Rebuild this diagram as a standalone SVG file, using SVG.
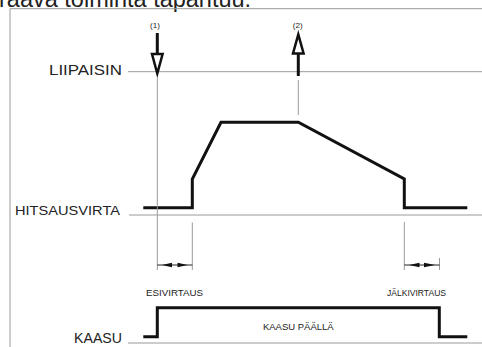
<svg xmlns="http://www.w3.org/2000/svg" width="482" height="347" viewBox="0 0 482 347">
<style>
.thin{stroke:#9a9a9a;stroke-width:1;fill:none}
.wave{stroke:#111;stroke-width:3;fill:none;stroke-linejoin:miter}
.lbl{font-family:"Liberation Sans",Arial,sans-serif;fill:#222}
.big{font-size:15px}
.sm{font-size:9px}
.tiny{font-size:8px}
.dim{stroke:#222;stroke-width:1}
.head{fill:#111}
</style>
<rect width="482" height="347" fill="#fff"/>
<text class="lbl" x="-1" y="7" font-size="23.5">raava toiminta tapahtuu.</text>
<g id="frame">
<path class="thin" d="M10,347 V8.7 H482"/>
</g>
<g id="liipaisin">
<text class="lbl big" x="49" y="75" textLength="73" lengthAdjust="spacingAndGlyphs">LIIPAISIN</text>
<line class="thin" x1="128" y1="71.7" x2="482" y2="71.7"/>
</g>
<g id="hitsausvirta">
<text class="lbl" x="15" y="215" font-size="13.5" textLength="105" lengthAdjust="spacingAndGlyphs">HITSAUSVIRTA</text>
<line class="thin" x1="129" y1="215" x2="482" y2="215"/>
<polyline class="wave" points="143.3,207.7 192.3,207.7 192.3,179 221,122.3 298.3,122.3 404.3,179 404.3,207.7 467.3,207.7"/>
</g>
<g id="kaasu">
<text class="lbl big" x="74" y="343" textLength="48" lengthAdjust="spacingAndGlyphs">KAASU</text>
<line class="thin" x1="128" y1="343" x2="482" y2="343"/>
<polyline class="wave" points="143.3,336.7 157.3,336.7 157.3,307.7 439.3,307.7 439.3,336.7 467.3,336.7"/>
<text class="lbl" x="298.3" y="330" font-size="9.5" text-anchor="middle">KAASU PÄÄLLÄ</text>
</g>
<g id="trigger1">
<text class="lbl tiny" x="155" y="28" text-anchor="middle">(1)</text>
<line x1="157.3" y1="33" x2="157.3" y2="54" stroke="#111" stroke-width="3"/>
<polygon points="152,54 162.6,54 157.3,73.5" fill="#fff" stroke="#111" stroke-width="2.5" stroke-linejoin="miter"/>
</g>
<g id="trigger2">
<text class="lbl tiny" x="297.7" y="28" text-anchor="middle">(2)</text>
<polygon points="293,53.5 303.6,53.5 298.3,34.5" fill="#fff" stroke="#111" stroke-width="2.5" stroke-linejoin="miter"/>
<line x1="298.3" y1="53.5" x2="298.3" y2="76" stroke="#111" stroke-width="3"/>
</g>
<g id="connectors">
<line class="thin" x1="157.3" y1="78" x2="157.3" y2="270"/>
<line class="thin" x1="298.3" y1="80" x2="298.3" y2="115"/>
<line class="thin" x1="192.3" y1="222.5" x2="192.3" y2="270"/>
<line class="thin" x1="404.3" y1="222" x2="404.3" y2="270"/>
<line class="thin" x1="439.5" y1="258" x2="439.5" y2="270"/>
</g>
<g id="esivirtaus">
<line class="dim" x1="157.3" y1="265" x2="192.3" y2="265"/>
<polygon class="head" points="162,265 172,262.8 172,267.2"/>
<polygon class="head" points="187.5,265 177.5,262.8 177.5,267.2"/>
<text class="lbl sm" x="174.5" y="296" text-anchor="middle" textLength="57" lengthAdjust="spacingAndGlyphs">ESIVIRTAUS</text>
</g>
<g id="jalkivirtaus">
<line class="dim" x1="404.3" y1="265" x2="439.5" y2="265"/>
<polygon class="head" points="409,265 419.5,262.8 419.5,267.2"/>
<polygon class="head" points="435,265 424,262.8 424,267.2"/>
<text class="lbl sm" x="416.5" y="296" text-anchor="middle" textLength="59" lengthAdjust="spacingAndGlyphs">JÄLKIVIRTAUS</text>
</g>
</svg>
